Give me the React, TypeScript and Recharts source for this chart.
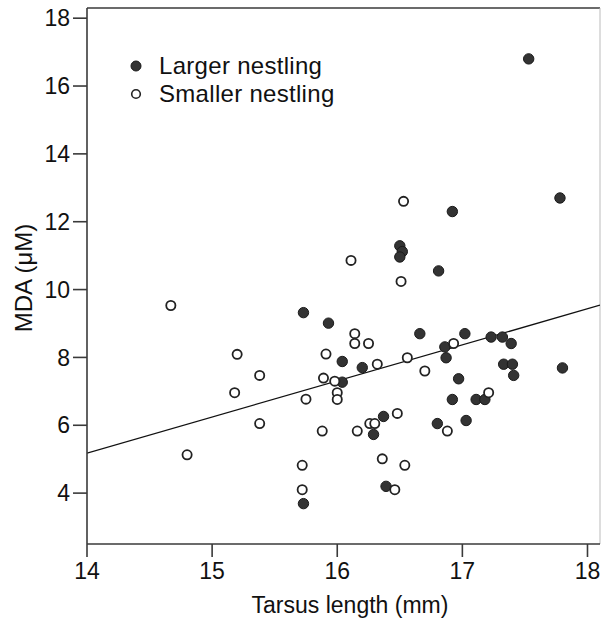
import React from "react";
import {
  ScatterChart,
  Scatter,
  XAxis,
  YAxis,
  ReferenceLine,
  Legend,
} from "recharts";

// Larger nestling (filled)
const largerX = [17.53, 17.78, 16.92, 16.5, 16.52, 16.5, 16.81, 15.73, 15.93, 16.66, 17.02, 17.23, 17.32, 17.39, 16.86, 16.87, 16.04, 16.2, 17.33, 17.4, 17.41, 17.8, 16.97, 16.04, 16.92, 17.11, 17.18, 16.37, 17.03, 16.8, 16.29, 16.39, 15.73];
const largerY = [16.8, 12.7, 12.3, 11.29, 11.12, 10.96, 10.55, 9.32, 9.01, 8.7, 8.7, 8.6, 8.6, 8.41, 8.31, 7.99, 7.88, 7.7, 7.8, 7.8, 7.47, 7.69, 7.37, 7.27, 6.76, 6.76, 6.76, 6.26, 6.14, 6.05, 5.73, 4.2, 3.69];

// Smaller nestling (open)
const smallerX = [14.67, 14.8, 15.2, 15.18, 15.38, 15.38, 15.75, 15.72, 15.72, 15.88, 15.91, 15.89, 15.98, 16.0, 16.0, 16.11, 16.14, 16.14, 16.25, 16.16, 16.26, 16.3, 16.32, 16.36, 16.53, 16.51, 16.48, 16.46, 16.56, 16.54, 16.7, 16.88, 16.93, 17.21];
const smallerY = [9.53, 5.13, 8.09, 6.96, 7.47, 6.05, 6.77, 4.82, 4.1, 5.83, 8.1, 7.39, 7.3, 6.96, 6.76, 10.86, 8.7, 8.41, 8.41, 5.83, 6.05, 6.05, 7.8, 5.01, 12.6, 10.24, 6.35, 4.1, 7.99, 4.82, 7.6, 5.83, 8.41, 6.96];

// Regression line endpoints
const fitX = [14, 18.1];
const fitY = [5.18, 9.54];

const xTicks = [14, 15, 16, 17, 18];
const yTicks = [4, 6, 8, 10, 12, 14, 16, 18];
const xDomain = [14, 18.1];
const yDomain = [2.5, 18.3];
const seriesNames = ["Larger nestling", "Smaller nestling"];

const largerData = largerX.map((x, i) => ({ x, y: largerY[i] }));
const smallerData = smallerX.map((x, i) => ({ x, y: smallerY[i] }));
const fitSegment = fitX.map((x, i) => ({ x, y: fitY[i] }));

const FONT = "'Liberation Sans', Arial, sans-serif";
const AXIS = "#3a3a3a";

const FilledDot = (props: any) => (
  <circle cx={props.cx} cy={props.cy} r={5.2} fill="#333333" stroke="#1a1a1a" strokeWidth={1} />
);
const OpenDot = (props: any) => (
  <circle cx={props.cx} cy={props.cy} r={4.6} fill="#ffffff" stroke="#222222" strokeWidth={1.8} />
);

const renderLegend = () => (
  <div style={{ fontFamily: FONT, fontSize: 24, color: "#111" }}>
    {seriesNames.map((name, i) => (
      <div key={name} style={{ display: "flex", alignItems: "center", height: 28.6 }}>
        <svg width={31} height={14} style={{ display: "block" }}>
          {i === 0 ? (
            <circle cx={8} cy={7} r={5} fill="#333" stroke="#1a1a1a" strokeWidth={1} />
          ) : (
            <circle cx={8} cy={7} r={4.3} fill="#fff" stroke="#222" strokeWidth={1.6} />
          )}
        </svg>
        <span style={{ letterSpacing: 0.3, whiteSpace: "nowrap" }}>{name}</span>
      </div>
    ))}
  </div>
);

const YLabel = () => (
  <text
    x={32}
    y={278}
    transform="rotate(-90 32 278)"
    textAnchor="middle"
    fontFamily={FONT}
    fontSize={24}
    fill="#111"
  >
    MDA (μM)
  </text>
);

const XLabel = () => (
  <text x={350} y={613} textAnchor="middle" fontFamily={FONT} fontSize={23} fill="#111">
    Tarsus length (mm)
  </text>
);

export default function App() {
  return (
    <div style={{ position: "absolute", left: 0, top: 0, width: 601, height: 626, background: "#fff" }}>
      <ScatterChart width={601} height={626} margin={{ top: 8, right: 1, bottom: 0, left: 0 }}>
        <XAxis
          type="number"
          dataKey="x"
          domain={xDomain}
          ticks={xTicks}
          allowDataOverflow
          height={82}
          tickSize={13}
          tickMargin={6}
          axisLine={{ stroke: AXIS, strokeWidth: 1.6 }}
          tickLine={{ stroke: AXIS, strokeWidth: 1.6 }}
          tick={{ fontFamily: FONT, fontSize: 23, fill: "#111" }}
          label={<XLabel />}
        />
        <YAxis
          type="number"
          dataKey="y"
          domain={yDomain}
          ticks={yTicks}
          allowDataOverflow
          width={87}
          tickSize={14}
          tickMargin={3}
          axisLine={{ stroke: AXIS, strokeWidth: 1.6 }}
          tickLine={{ stroke: AXIS, strokeWidth: 1.6 }}
          tick={{ fontFamily: FONT, fontSize: 23, fill: "#111" }}
          label={<YLabel />}
        />
        <ReferenceLine y={yDomain[1]} stroke={AXIS} strokeWidth={1.6} ifOverflow="visible" />
        <ReferenceLine x={xDomain[1]} stroke="#bbbbbb" strokeWidth={1} ifOverflow="visible" />
        <ReferenceLine
          segment={fitSegment}
          stroke="#111"
          strokeWidth={1.3}
          ifOverflow="hidden"
        />
        <Scatter
          name={seriesNames[0]}
          data={largerData}
          shape={FilledDot}
          isAnimationActive={false}
        />
        <Scatter
          name={seriesNames[1]}
          data={smallerData}
          shape={OpenDot}
          isAnimationActive={false}
        />
        <Legend
          layout="vertical"
          align="center"
          verticalAlign="middle"
          content={renderLegend}
          wrapperStyle={{ position: "absolute", left: 128, top: 51.5, width: "auto" }}
        />
      </ScatterChart>
    </div>
  );
}
